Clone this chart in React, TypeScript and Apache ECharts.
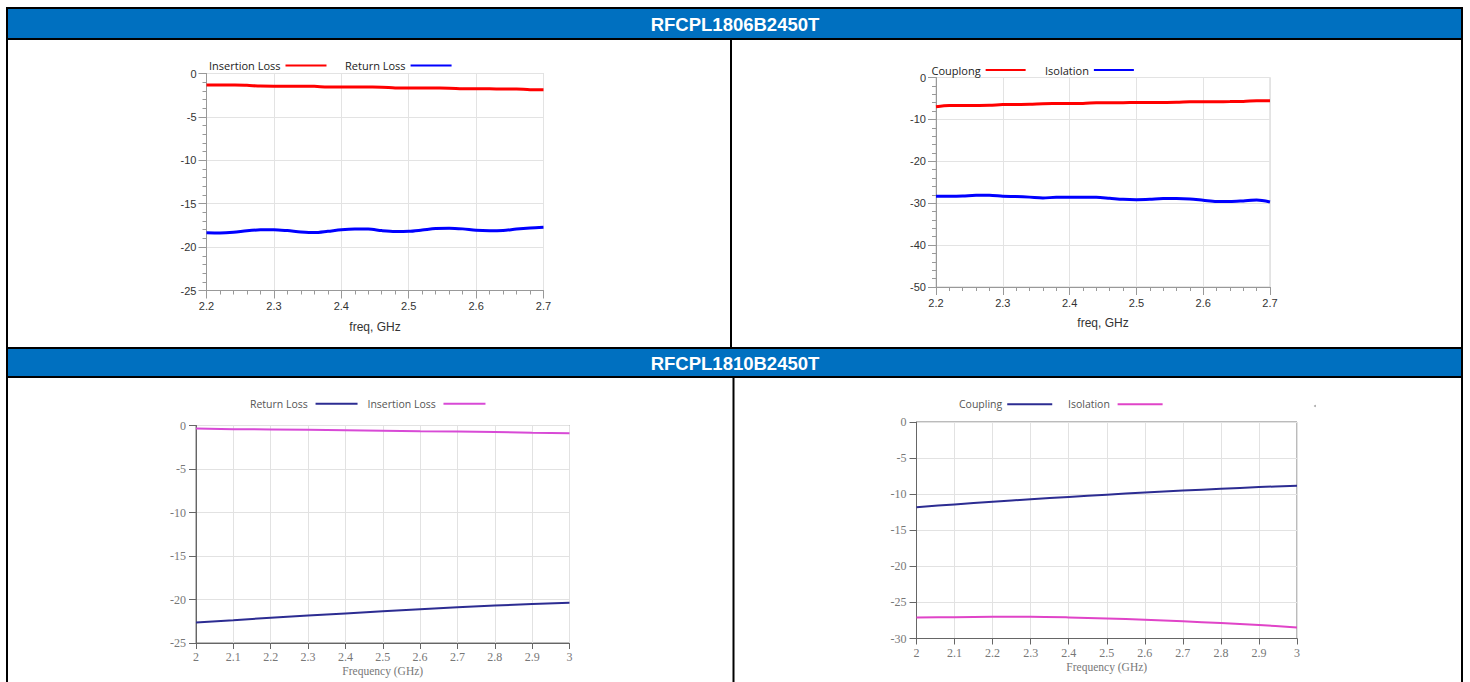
import { useEffect, useRef } from 'react';
import * as echarts from 'echarts';

const titles = ['RFCPL1806B2450T', 'RFCPL1810B2450T'];

// Chart A: RFCPL1806B2450T – Insertion / Return Loss
const freqA = [2.2, 2.22, 2.24, 2.26, 2.28, 2.3, 2.32, 2.34, 2.36, 2.38, 2.4, 2.42, 2.44, 2.46, 2.48, 2.5, 2.52, 2.54, 2.56, 2.58, 2.6, 2.62, 2.64, 2.66, 2.68, 2.7];
const insertionLossA = [-1.32, -1.32, -1.33, -1.36, -1.45, -1.46, -1.46, -1.47, -1.48, -1.55, -1.55, -1.55, -1.56, -1.57, -1.66, -1.67, -1.67, -1.68, -1.69, -1.76, -1.77, -1.77, -1.78, -1.79, -1.86, -1.87];
const returnLossA = [-18.36, -18.38, -18.3, -18.12, -18.01, -18.0, -18.1, -18.25, -18.33, -18.18, -18.0, -17.92, -17.92, -18.1, -18.2, -18.18, -18.03, -17.86, -17.82, -17.9, -18.07, -18.12, -18.08, -17.92, -17.8, -17.72];

// Chart B: RFCPL1806B2450T – Coupling / Isolation
const freqB = [2.2, 2.22, 2.24, 2.26, 2.28, 2.3, 2.32, 2.34, 2.36, 2.38, 2.4, 2.42, 2.44, 2.46, 2.48, 2.5, 2.52, 2.54, 2.56, 2.58, 2.6, 2.62, 2.64, 2.66, 2.68, 2.7];
const couplingB = [-7.0, -6.7, -6.68, -6.66, -6.62, -6.45, -6.42, -6.4, -6.25, -6.22, -6.2, -6.18, -6.05, -6.02, -6.0, -5.98, -5.96, -5.95, -5.93, -5.8, -5.78, -5.77, -5.75, -5.7, -5.55, -5.52];
const isolationB = [-28.36, -28.36, -28.3, -28.1, -28.1, -28.33, -28.42, -28.55, -28.74, -28.6, -28.6, -28.6, -28.6, -28.82, -29.07, -29.15, -29.07, -28.9, -28.9, -29.0, -29.3, -29.6, -29.6, -29.45, -29.25, -29.7];

// Chart C: RFCPL1810B2450T – Return / Insertion Loss
const freqC = [2.0, 2.1, 2.2, 2.3, 2.4, 2.5, 2.6, 2.7, 2.8, 2.9, 3.0];
const returnLossC = [-22.65, -22.38, -22.1, -21.85, -21.6, -21.35, -21.12, -20.9, -20.7, -20.52, -20.38];
const insertionLossC = [-0.35, -0.42, -0.45, -0.5, -0.55, -0.6, -0.66, -0.7, -0.75, -0.82, -0.88];

// Chart D: RFCPL1810B2450T – Coupling / Isolation
const freqD = [2.0, 2.1, 2.2, 2.3, 2.4, 2.5, 2.6, 2.7, 2.8, 2.9, 3.0];
const couplingD = [-11.8, -11.42, -11.05, -10.7, -10.38, -10.07, -9.77, -9.5, -9.25, -9.02, -8.82];
const isolationD = [-27.1, -27.05, -27.0, -27.0, -27.08, -27.22, -27.4, -27.62, -27.85, -28.12, -28.47];

const pairs = (xs: number[], ys: number[]) => ys.map((v, i) => [xs[i], v]);

const RED = '#ff0000';
const BLUE = '#0000ff';
const NAVY = '#2c2c92';
const MAGENTA = '#d84ad6';
const PINK = '#e044c8';
const HEADER = '#0070c0';

const topLabelFont = { fontFamily: 'Liberation Sans, Arial, sans-serif', fontSize: 11, color: '#333' };
const botLabelFont = { fontFamily: 'Liberation Serif, serif', fontSize: 12, color: '#777' };

function topX(gi: number, min: number, max: number) {
  return {
    type: 'value', gridIndex: gi, min, max, interval: 0.1,
    name: 'freq, GHz', nameLocation: 'middle', nameGap: 30,
    nameTextStyle: { fontFamily: 'Liberation Sans, Arial, sans-serif', fontSize: 12, color: '#333' },
    axisLine: { show: true, onZero: false, lineStyle: { color: '#999', width: 1 } },
    axisTick: { show: true, length: 8, lineStyle: { color: '#999' } },
    minorTick: { show: true, splitNumber: 5, length: 4, lineStyle: { color: '#999' } },
    axisLabel: { ...topLabelFont, margin: 10 },
    splitLine: { show: true, lineStyle: { color: '#e3e3e3' } },
  };
}
function topY(gi: number, min: number, interval: number) {
  return {
    type: 'value', gridIndex: gi, min, max: 0, interval,
    axisLine: { show: true, onZero: false, lineStyle: { color: '#999', width: 1 } },
    axisTick: { show: true, length: 8, lineStyle: { color: '#999' } },
    minorTick: { show: true, splitNumber: 5, length: 4, lineStyle: { color: '#999' } },
    axisLabel: { ...topLabelFont, margin: 10 },
    splitLine: { show: true, lineStyle: { color: '#e3e3e3' } },
  };
}
function botX(gi: number) {
  return {
    type: 'value', gridIndex: gi, min: 2, max: 3, interval: 0.1,
    name: 'Frequency (GHz)', nameLocation: 'middle', nameGap: 22,
    nameTextStyle: { fontFamily: 'Liberation Serif, serif', fontSize: 11.5, color: '#777' },
    axisLine: { show: true, onZero: false, lineStyle: { color: '#666', width: 1 } },
    axisTick: { show: true, length: 6, lineStyle: { color: '#666' } },
    axisLabel: { ...botLabelFont, margin: 8 },
    splitLine: { show: true, lineStyle: { color: '#e2e2e2' } },
  };
}
function botY(gi: number, min: number) {
  return {
    type: 'value', gridIndex: gi, min, max: 0, interval: 5,
    axisLine: { show: true, onZero: false, lineStyle: { color: '#666', width: 1 } },
    axisTick: { show: true, length: 7, lineStyle: { color: '#666' } },
    axisLabel: { ...botLabelFont, margin: 10 },
    splitLine: { show: true, lineStyle: { color: '#e2e2e2' } },
  };
}

function legendItem(name: string, color: string, left: number, cy: number, w: number, fontSize: number, textColor: string) {
  return {
    data: [{ name, itemStyle: { color }, lineStyle: { color } }],
    left, top: cy - fontSize / 2,
    padding: 0, align: 'right', icon: 'rect', itemWidth: w, itemHeight: 2,
    selectedMode: false,
    textStyle: { fontFamily: 'Open Sans, sans-serif', fontSize, color: textColor },
  };
}

function lineSeries(name: string, xi: number, xs: number[], ys: number[], color: string, width: number, smooth: boolean) {
  return {
    type: 'line', name, xAxisIndex: xi, yAxisIndex: xi,
    data: pairs(xs, ys), showSymbol: false, symbol: 'none', smooth: smooth ? 0.3 : false,
    color, lineStyle: { color, width }, itemStyle: { color },
  };
}

export default function App() {
  const ref = useRef<HTMLDivElement>(null);
  useEffect(() => {
    if (!ref.current) return;
    const chart = echarts.init(ref.current, undefined, { renderer: 'svg' });
    const option = {
      animation: false,
      backgroundColor: '#fff',
      grid: [
        { left: 206.5, top: 73.5, width: 337, height: 217, show: true, borderColor: '#cfcfcf', borderWidth: 1 },
        { left: 936, top: 77.5, width: 334, height: 209.5, show: true, borderColor: '#cfcfcf', borderWidth: 1 },
        { left: 196, top: 425.5, width: 373.5, height: 217.5, show: true, borderColor: '#777', borderWidth: 1 },
        { left: 916.5, top: 422, width: 380.5, height: 216.5, show: true, borderColor: '#777', borderWidth: 1 },
      ],
      xAxis: [topX(0, 2.2, 2.7), topX(1, 2.2, 2.7), botX(2), botX(3)],
      yAxis: [topY(0, -25, 5), topY(1, -50, 10), botY(2, -25), botY(3, -30)],
      legend: [
        legendItem('Insertion Loss', RED, 209, 65.5, 41, 11, '#222'),
        legendItem('Return Loss', BLUE, 345, 65.5, 41, 11, '#222'),
        legendItem('Couplong', RED, 931.5, 70, 40, 11, '#222'),
        legendItem('Isolation', BLUE, 1045, 70, 40, 11, '#222'),
        legendItem('Return Loss ', NAVY, 250, 403.5, 42, 10.5, '#555'),
        legendItem('Insertion Loss ', MAGENTA, 367.5, 403.5, 42, 10.5, '#555'),
        legendItem('Coupling', NAVY, 959, 404, 45, 10.5, '#555'),
        legendItem('Isolation ', PINK, 1068, 404, 45, 10.5, '#555'),
      ],
      series: [
        lineSeries('Insertion Loss', 0, freqA, insertionLossA, RED, 3, true),
        lineSeries('Return Loss', 0, freqA, returnLossA, BLUE, 3, true),
        lineSeries('Couplong', 1, freqB, couplingB, RED, 3, true),
        lineSeries('Isolation', 1, freqB, isolationB, BLUE, 3, true),
        lineSeries('Return Loss ', 2, freqC, returnLossC, NAVY, 2, false),
        lineSeries('Insertion Loss ', 2, freqC, insertionLossC, MAGENTA, 2, false),
        lineSeries('Coupling', 3, freqD, couplingD, NAVY, 2, true),
        lineSeries('Isolation ', 3, freqD, isolationD, PINK, 2, true),
      ],
      graphic: [
        { type: 'rect', shape: { x: 8, y: 9, width: 1453, height: 29 }, style: { fill: HEADER }, silent: true },
        { type: 'rect', shape: { x: 8, y: 349, width: 1453, height: 27 }, style: { fill: HEADER }, silent: true },
        { type: 'rect', shape: { x: 7, y: 8, width: 1455, height: 690 }, style: { fill: 'none', stroke: '#000', lineWidth: 2 }, silent: true },
        { type: 'line', shape: { x1: 7, y1: 39, x2: 1462, y2: 39 }, style: { stroke: '#000', lineWidth: 2 }, silent: true },
        { type: 'line', shape: { x1: 7, y1: 348, x2: 1462, y2: 348 }, style: { stroke: '#000', lineWidth: 2 }, silent: true },
        { type: 'line', shape: { x1: 7, y1: 377, x2: 1462, y2: 377 }, style: { stroke: '#000', lineWidth: 2 }, silent: true },
        { type: 'line', shape: { x1: 731, y1: 39, x2: 731, y2: 348 }, style: { stroke: '#000', lineWidth: 2 }, silent: true },
        { type: 'line', shape: { x1: 733.5, y1: 377, x2: 733.5, y2: 690 }, style: { stroke: '#000', lineWidth: 2 }, silent: true },
        { type: 'text', x: 735, y: 24, style: { text: titles[0], fill: '#fff', font: 'bold 18.5px "Liberation Sans", Arial, sans-serif', textAlign: 'center', textVerticalAlign: 'middle' }, silent: true },
        { type: 'text', x: 735, y: 363, style: { text: titles[1], fill: '#fff', font: 'bold 18.5px "Liberation Sans", Arial, sans-serif', textAlign: 'center', textVerticalAlign: 'middle' }, silent: true },
        { type: 'circle', shape: { cx: 1315, cy: 406, r: 1 }, style: { fill: '#aaa' }, silent: true },
      ],
    };
    chart.setOption(option as any);
    return () => chart.dispose();
  }, []);
  return <div ref={ref} style={{ position: 'absolute', left: 0, top: 0, width: 1470, height: 682 }} />;
}
